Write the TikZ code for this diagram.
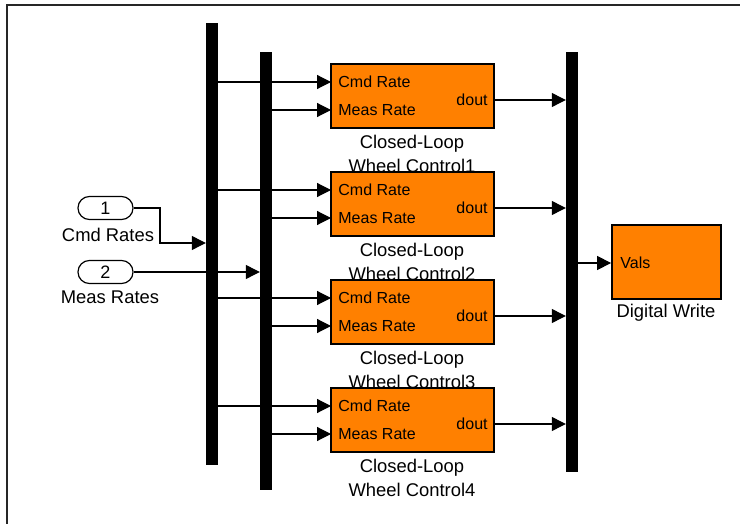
\documentclass[tikz,border=0pt]{standalone}
\usepackage{fontspec}
\setmainfont{Liberation Sans}
\usetikzlibrary{arrows.meta}
\definecolor{slorange}{RGB}{255,128,0}
\tikzset{
  bar/.style={fill=black,inner sep=0pt,minimum width=5.8pt},
  blk/.style={draw=black,line width=0.9pt,fill=slorange,minimum width=81.5pt,minimum height=32pt,inner sep=0pt},
  port/.style={draw,line width=0.6pt,rounded corners=5.7pt,minimum width=27.5pt,minimum height=11.5pt,inner sep=0pt,font=\fontsize{9}{10}\selectfont},
  wire/.style={line width=0.6pt,-{Triangle[length=7pt,width=7pt]}},
  lbl/.style={inner sep=0pt,font=\fontsize{9.2}{12}\selectfont},
  txt/.style={inner sep=0pt,font=\fontsize{8}{9.6}\selectfont}
}
\begin{document}
\begin{tikzpicture}[x=0.5pt,y=-0.5pt]
\useasboundingbox (0,0) rectangle (740,524);
% frame
\draw [line width=1pt,black!85] (7,524) -- (7,5) -- (740,5);
% bus bars
\node[bar,minimum height=221pt] (bar1) at (212,244) {};
\node[bar,minimum height=219pt] (bar2) at (266,271) {};
\node[bar,minimum height=210pt] (bar3) at (572,262) {};
% inports
\node[port] (in1) at (105.5,208) {1};
\node[lbl] (in1lbl) at (108,235) {Cmd Rates};
\node[port] (in2) at (105.5,272) {2};
\node[lbl] (in2lbl) at (110,297) {Meas Rates};
\coordinate (j1) at (160,243);
\draw[wire] (in1.east) -| (j1) -- (bar1.west |- j1);
\draw[wire] (in2.east) -- (bar2.west |- in2.east);
% controllers
\foreach \i in {1,...,4}{
  \pgfmathsetmacro{\t}{64+108*(\i-1)}
  \node[blk] (blk\i) at (412.5,\t+32) {};
  \coordinate (cmd\i) at (331,\t+18);
  \coordinate (meas\i) at (331,\t+46);
  \coordinate (dout\i) at (494,\t+36);
  \node[txt,anchor=west] (cmdtxt\i) at (338,\t+18) {Cmd Rate};
  \node[txt,anchor=west] (meastxt\i) at (338,\t+46) {Meas Rate};
  \node[txt,anchor=east] (douttxt\i) at (488,\t+36) {dout};
  \node[lbl,align=center] (blklbl\i) at (412,\t+90) {Closed-Loop\\Wheel Control\i};
  \draw[wire] (bar1.east |- cmd\i) -- (cmd\i);
  \draw[wire] (bar2.east |- meas\i) -- (meas\i);
  \draw[wire] (dout\i) -- (bar3.west |- dout\i);
}
% digital write
\node[blk,minimum width=54.5pt,minimum height=37pt] (dw) at (666.5,262) {};
\node[txt,anchor=west] (dwtxt) at (620,263) {Vals};
\node[lbl] (dwlbl) at (666,313) {Digital Write};
\draw[wire] (bar3.east |- dwtxt) -- (dw.west |- dwtxt);
\end{tikzpicture}
\end{document}
